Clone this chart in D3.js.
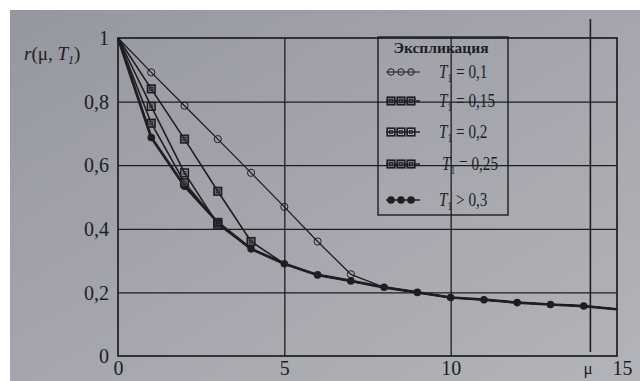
<!DOCTYPE html>
<html><head><meta charset="utf-8">
<script src="https://cdn.jsdelivr.net/npm/d3@7/dist/d3.min.js"></script>
<style>html,body{margin:0;padding:0;background:#fff;}svg{display:block}</style>
</head><body><svg id="c" width="640" height="381"></svg>
<script>
// ---- data ----
const muValues = [0,1,2,3,4,5,6,7,8,9,10,11,12,13,14,15];
const seriesT01  = [1, 0.892, 0.787, 0.682, 0.576, 0.469, 0.36, 0.257];
const seriesT015 = [1, 0.84, 0.682, 0.518, 0.36];
const seriesT02  = [1, 0.785, 0.576, 0.414];
const seriesT025 = [1, 0.732, 0.545, 0.42];
const seriesT03  = [1, 0.687, 0.534, 0.42, 0.337, 0.29, 0.255, 0.236, 0.216, 0.2, 0.184, 0.177, 0.168, 0.162, 0.157, 0.147];
const legendLabels = ["= 0,1", "= 0,15", "= 0,2", "= 0,25", "> 0,3"];
const yTickValues = [0, 0.2, 0.4, 0.6, 0.8, 1];
const yTickLabels = ["0", "0,2", "0,4", "0,6", "0,8", "1"];
const xTickValues = [0, 5, 10, 15];
const xTickLabels = ["0", "5", "10", "15"];
const xGridValues = [5, 10];
const muMarkValue = 14.2;

const ink = "#1d1e22";
const serif = "'Liberation Serif', 'DejaVu Serif', serif";
const svg = d3.select("#c");

// background (photographed page)
const defs = svg.append("defs");
const g = defs.append("linearGradient").attr("id","bg").attr("x1","0").attr("y1","0").attr("x2","1").attr("y2","1");
g.append("stop").attr("offset","0").attr("stop-color","#95979f");
g.append("stop").attr("offset","0.5").attr("stop-color","#a5a6ad");
g.append("stop").attr("offset","1").attr("stop-color","#b3b4b9");
svg.append("rect").attr("x",10).attr("y",10).attr("width",630).attr("height",371).attr("fill","url(#bg)");

const x = d3.scaleLinear().domain([0,15]).range([118,617]);
const y = d3.scaleLinear().domain([0,1]).range([356,38]);

// grid
const gy = svg.append("g").attr("transform","translate(118,0)")
  .call(d3.axisLeft(y).tickValues(yTickValues.slice(1,5)).tickSize(-(617-118)).tickFormat(""));
gy.select(".domain").remove();
gy.selectAll("line").attr("stroke",ink).attr("stroke-width",1.3);
const gx = svg.append("g").attr("transform","translate(0,356)")
  .call(d3.axisBottom(x).tickValues(xGridValues).tickSize(-(356-38)).tickFormat(""));
gx.select(".domain").remove();
gx.selectAll("line").attr("stroke",ink).attr("stroke-width",1.3);

// frame
svg.append("rect").attr("x",x(0)).attr("y",y(1)).attr("width",x(15)-x(0)).attr("height",y(0)-y(1))
  .attr("fill","none").attr("stroke",ink).attr("stroke-width",1.7);

// mu vertical mark
svg.append("line").attr("x1",x(muMarkValue)).attr("x2",x(muMarkValue)).attr("y1",19).attr("y2",352)
  .attr("stroke",ink).attr("stroke-width",1.6);

// tick labels
const ay = svg.append("g").attr("transform","translate(118,0)")
  .call(d3.axisLeft(y).tickValues(yTickValues).tickSize(0).tickPadding(9).tickFormat((d,i)=>yTickLabels[i]));
ay.select(".domain").remove();
ay.selectAll("text").attr("font-family",serif).attr("font-size",20).attr("fill",ink).attr("dy","0.33em");
const ax = svg.append("g").attr("transform","translate(0,356)")
  .call(d3.axisBottom(x).tickValues(xTickValues).tickSize(0).tickFormat((d,i)=>xTickLabels[i]));
ax.select(".domain").remove();
ax.selectAll("text").attr("font-family",serif).attr("font-size",20).attr("fill",ink).attr("y",19).attr("dy",0);
ax.selectAll(".tick").filter(d=>d===15).select("text").attr("dx",5);

svg.append("text").attr("x",588).attr("y",374).attr("text-anchor","middle")
  .attr("font-family",serif).attr("font-size",17).attr("fill",ink).text("μ");

// y title
const yt = svg.append("text").attr("x",24).attr("y",60).attr("font-family",serif).attr("font-size",19).attr("fill",ink);
yt.append("tspan").attr("font-style","italic").text("r");
yt.append("tspan").text("(μ, ");
yt.append("tspan").attr("font-style","italic").text("T");
yt.append("tspan").attr("font-size",12).attr("dy",4).attr("font-style","italic").text("1");
yt.append("tspan").attr("dy",-4).text(")");

// series
const seriesList = [
  {vals: seriesT01,  type:"circle", lw:1.3},
  {vals: seriesT015, type:"square", lw:1.6, fill:"#4a4b50"},
  {vals: seriesT02,  type:"square", lw:1.6, fill:"none"},
  {vals: seriesT025, type:"square", lw:1.6, fill:"#5a5b60"},
  {vals: seriesT03,  type:"dot",    lw:2.7}
];
const line = d3.line().x(d=>x(d[0])).y(d=>y(d[1]));

function drawMarker(sel, type, cx, cy, fill, scale) {
  const s = scale || 1;
  if (type === "circle") {
    sel.append("circle").attr("cx",cx).attr("cy",cy).attr("r",3.6*s)
      .attr("fill","none").attr("stroke",ink).attr("stroke-width",1);
  } else if (type === "square") {
    const h = 3.8*s;
    sel.append("rect").attr("x",cx-h).attr("y",cy-h).attr("width",2*h).attr("height",2*h)
      .attr("fill",fill==="none"?"none":fill).attr("fill-opacity",0.6).attr("stroke",ink).attr("stroke-width",1.6);
    sel.append("rect").attr("x",cx-h*0.4).attr("y",cy-h*0.4).attr("width",h*0.8).attr("height",h*0.8)
      .attr("fill","none").attr("stroke",ink).attr("stroke-width",0.8);
  } else {
    sel.append("circle").attr("cx",cx).attr("cy",cy).attr("r",3.8*s).attr("fill",ink);
  }
}

// draw lines
seriesList.forEach(s => {
  const own = s.vals.map((v,i)=>[muValues[i], v]);
  const tail = seriesT03.slice(s.vals.length).map((v,j)=>[muValues[s.vals.length+j], v]);
  svg.append("path").datum(own.concat(tail)).attr("d",line)
    .attr("fill","none").attr("stroke",ink).attr("stroke-width",s.lw).attr("stroke-linejoin","round");
});
// markers
seriesList.slice().reverse().forEach(s => {
  const gm = svg.append("g");
  const n = s.type === "dot" ? s.vals.length - 1 : s.vals.length;
  for (let i = 1; i < n; i++) drawMarker(gm, s.type, x(muValues[i]), y(s.vals[i]), s.fill);
});

// legend
svg.append("rect").attr("x",378).attr("y",37).attr("width",130).attr("height",178)
  .attr("fill","none").attr("stroke",ink).attr("stroke-width",1.4);
svg.append("text").attr("x",441).attr("y",53).attr("text-anchor","middle")
  .attr("font-family",serif).attr("font-weight","bold").attr("font-size",15.5).attr("fill",ink).text("Экспликация");
const legendY = [72, 101, 132, 164, 200];
seriesList.forEach((s,k) => {
  const ly = legendY[k];
  const gl = svg.append("g");
  gl.append("line").attr("x1",386).attr("x2",420).attr("y1",ly).attr("y2",ly)
    .attr("stroke",ink).attr("stroke-width",s.type==="circle"?1:1.5);
  [391, 401, 411].forEach(mx => drawMarker(gl, s.type, mx, ly, s.fill, s.type==="circle"?0.9:1));
  const t = gl.append("text")
    .attr("transform", `translate(${k===3 ? 442 : 439},${ly+6}) scale(0.8,1)`)
    .attr("font-family",serif).attr("font-size",19).attr("fill",ink);
  t.append("tspan").attr("font-style","italic").text("T");
  t.append("tspan").attr("font-size",12).attr("dy",4).text("1");
  t.append("tspan").attr("dy",-4).text(" " + legendLabels[k]);
});
</script>
</body></html>
